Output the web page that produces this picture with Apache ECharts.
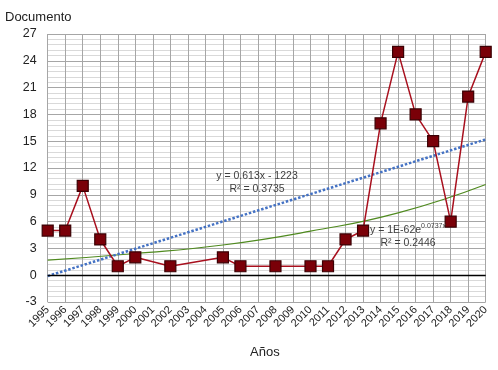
<!DOCTYPE html>
<html>
<head>
<meta charset="utf-8">
<script src="https://cdn.jsdelivr.net/npm/echarts@6/dist/echarts.min.js"></script>
<style>html,body{margin:0;padding:0;background:#fff}#c{width:498px;height:370px}</style>
</head>
<body>
<div id="c"></div>
<script>
// Observed values (years with documents)
const years = [1995,1996,1997,1998,1999,2000,2002,2005,2006,2008,2010,2011,2012,2013,2014,2015,2016,2017,2018,2019,2020];
const documentos = [5,5,10,4,1,2,1,2,1,1,1,1,4,5,17,25,18,15,6,20,25];
// Linear trend line, endpoints
const linYears = [1995, 2020];
const linValues = [-0.1, 15.2];
// Exponential trend line, every 5 years
const expYears = [1995, 2000, 2005, 2010, 2015, 2020];
const expValues = [1.68, 2.43, 3.38, 4.93, 6.98, 10.16];
// Axis ticks
const yTicks = [-3,0,3,6,9,12,15,18,21,24,27];

const zip = (a,b) => a.map((v,i)=>[v,b[i]]);
const FONT = 'Liberation Sans';
const chart = echarts.init(document.getElementById('c'));
chart.setOption({
  animation: false,
  grid: {left: 47.7, right: 12.3, top: 34, bottom: 68},
  xAxis: {
    type: 'value', min: 1995, max: 2020, interval: 1,
    axisLine: {show: false}, axisTick: {show: false},
    splitLine: {show: true, lineStyle: {color: '#A6A6A6', width: 1}},
    axisLabel: {rotate: 45, fontFamily: FONT, fontSize: 11, color: '#222', margin: 6,
      formatter: v => String(v)}
  },
  yAxis: {
    type: 'value', min: yTicks[0], max: yTicks[yTicks.length-1], interval: 3,
    axisLine: {show: false}, axisTick: {show: false},
    splitLine: {show: true, lineStyle: {color: '#A6A6A6', width: 1}},
    minorTick: {show: false, splitNumber: 5},
    minorSplitLine: {show: true, lineStyle: {color: '#D9D9D9', width: 1}},
    axisLabel: {fontFamily: FONT, fontSize: 12.5, color: '#222', margin: 11}
  },
  graphic: [
    {type: 'text', left: 5, top: 11, z: 100, style: {text: 'Documento', font: '13px "Liberation Sans"', fill: '#222'}},
    {type: 'text', left: 250, top: 346, z: 100, style: {text: 'Años', font: '13px "Liberation Sans"', fill: '#222'}},
    {type: 'text', x: 257, y: 170, z: 100, style: {text: 'y = 0.613x - 1223\nR² = 0.3735', font: '10.5px "Liberation Sans"', fill: '#404040', align: 'center', lineHeight: 12.5}},
    {type: 'text', x: 408, y: 223, z: 100, style: {
      text: '{a|y = 1E-62e}{s|0.0737x}\n{a|R² = 0.2446}', align: 'center', fill: '#404040',
      rich: {a: {fontFamily: FONT, fontSize: 10.5, fill: '#404040', lineHeight: 12.5, verticalAlign: 'bottom'},
             s: {fontFamily: FONT, fontSize: 7, fill: '#404040', verticalAlign: 'bottom', padding: [0,0,6,0]}}
    }}
  ],
  series: [
    {
      type: 'line', data: zip(expYears, expValues), smooth: true, symbol: 'none',
      lineStyle: {color: '#4F8A1F', width: 1.2}, z: 2, silent: true
    },
    {
      type: 'line', data: zip(linYears, linValues), symbol: 'none',
      lineStyle: {color: '#4472C4', width: 2.5, type: [2.5, 1.8]}, z: 2, silent: true,
      markLine: {silent: true, symbol: 'none', label: {show: false},
        lineStyle: {color: '#000', type: 'solid', width: 1.3}, data: [{yAxis: 0}]}
    },
    {
      type: 'line', data: zip(years, documentos), symbol: 'rect', symbolSize: 11,
      lineStyle: {color: '#A8101E', width: 1.5},
      itemStyle: {color: '#7A0008', borderColor: '#3A0004', borderWidth: 1.2}, z: 3
    }
  ]
});
</script>
</body>
</html>
